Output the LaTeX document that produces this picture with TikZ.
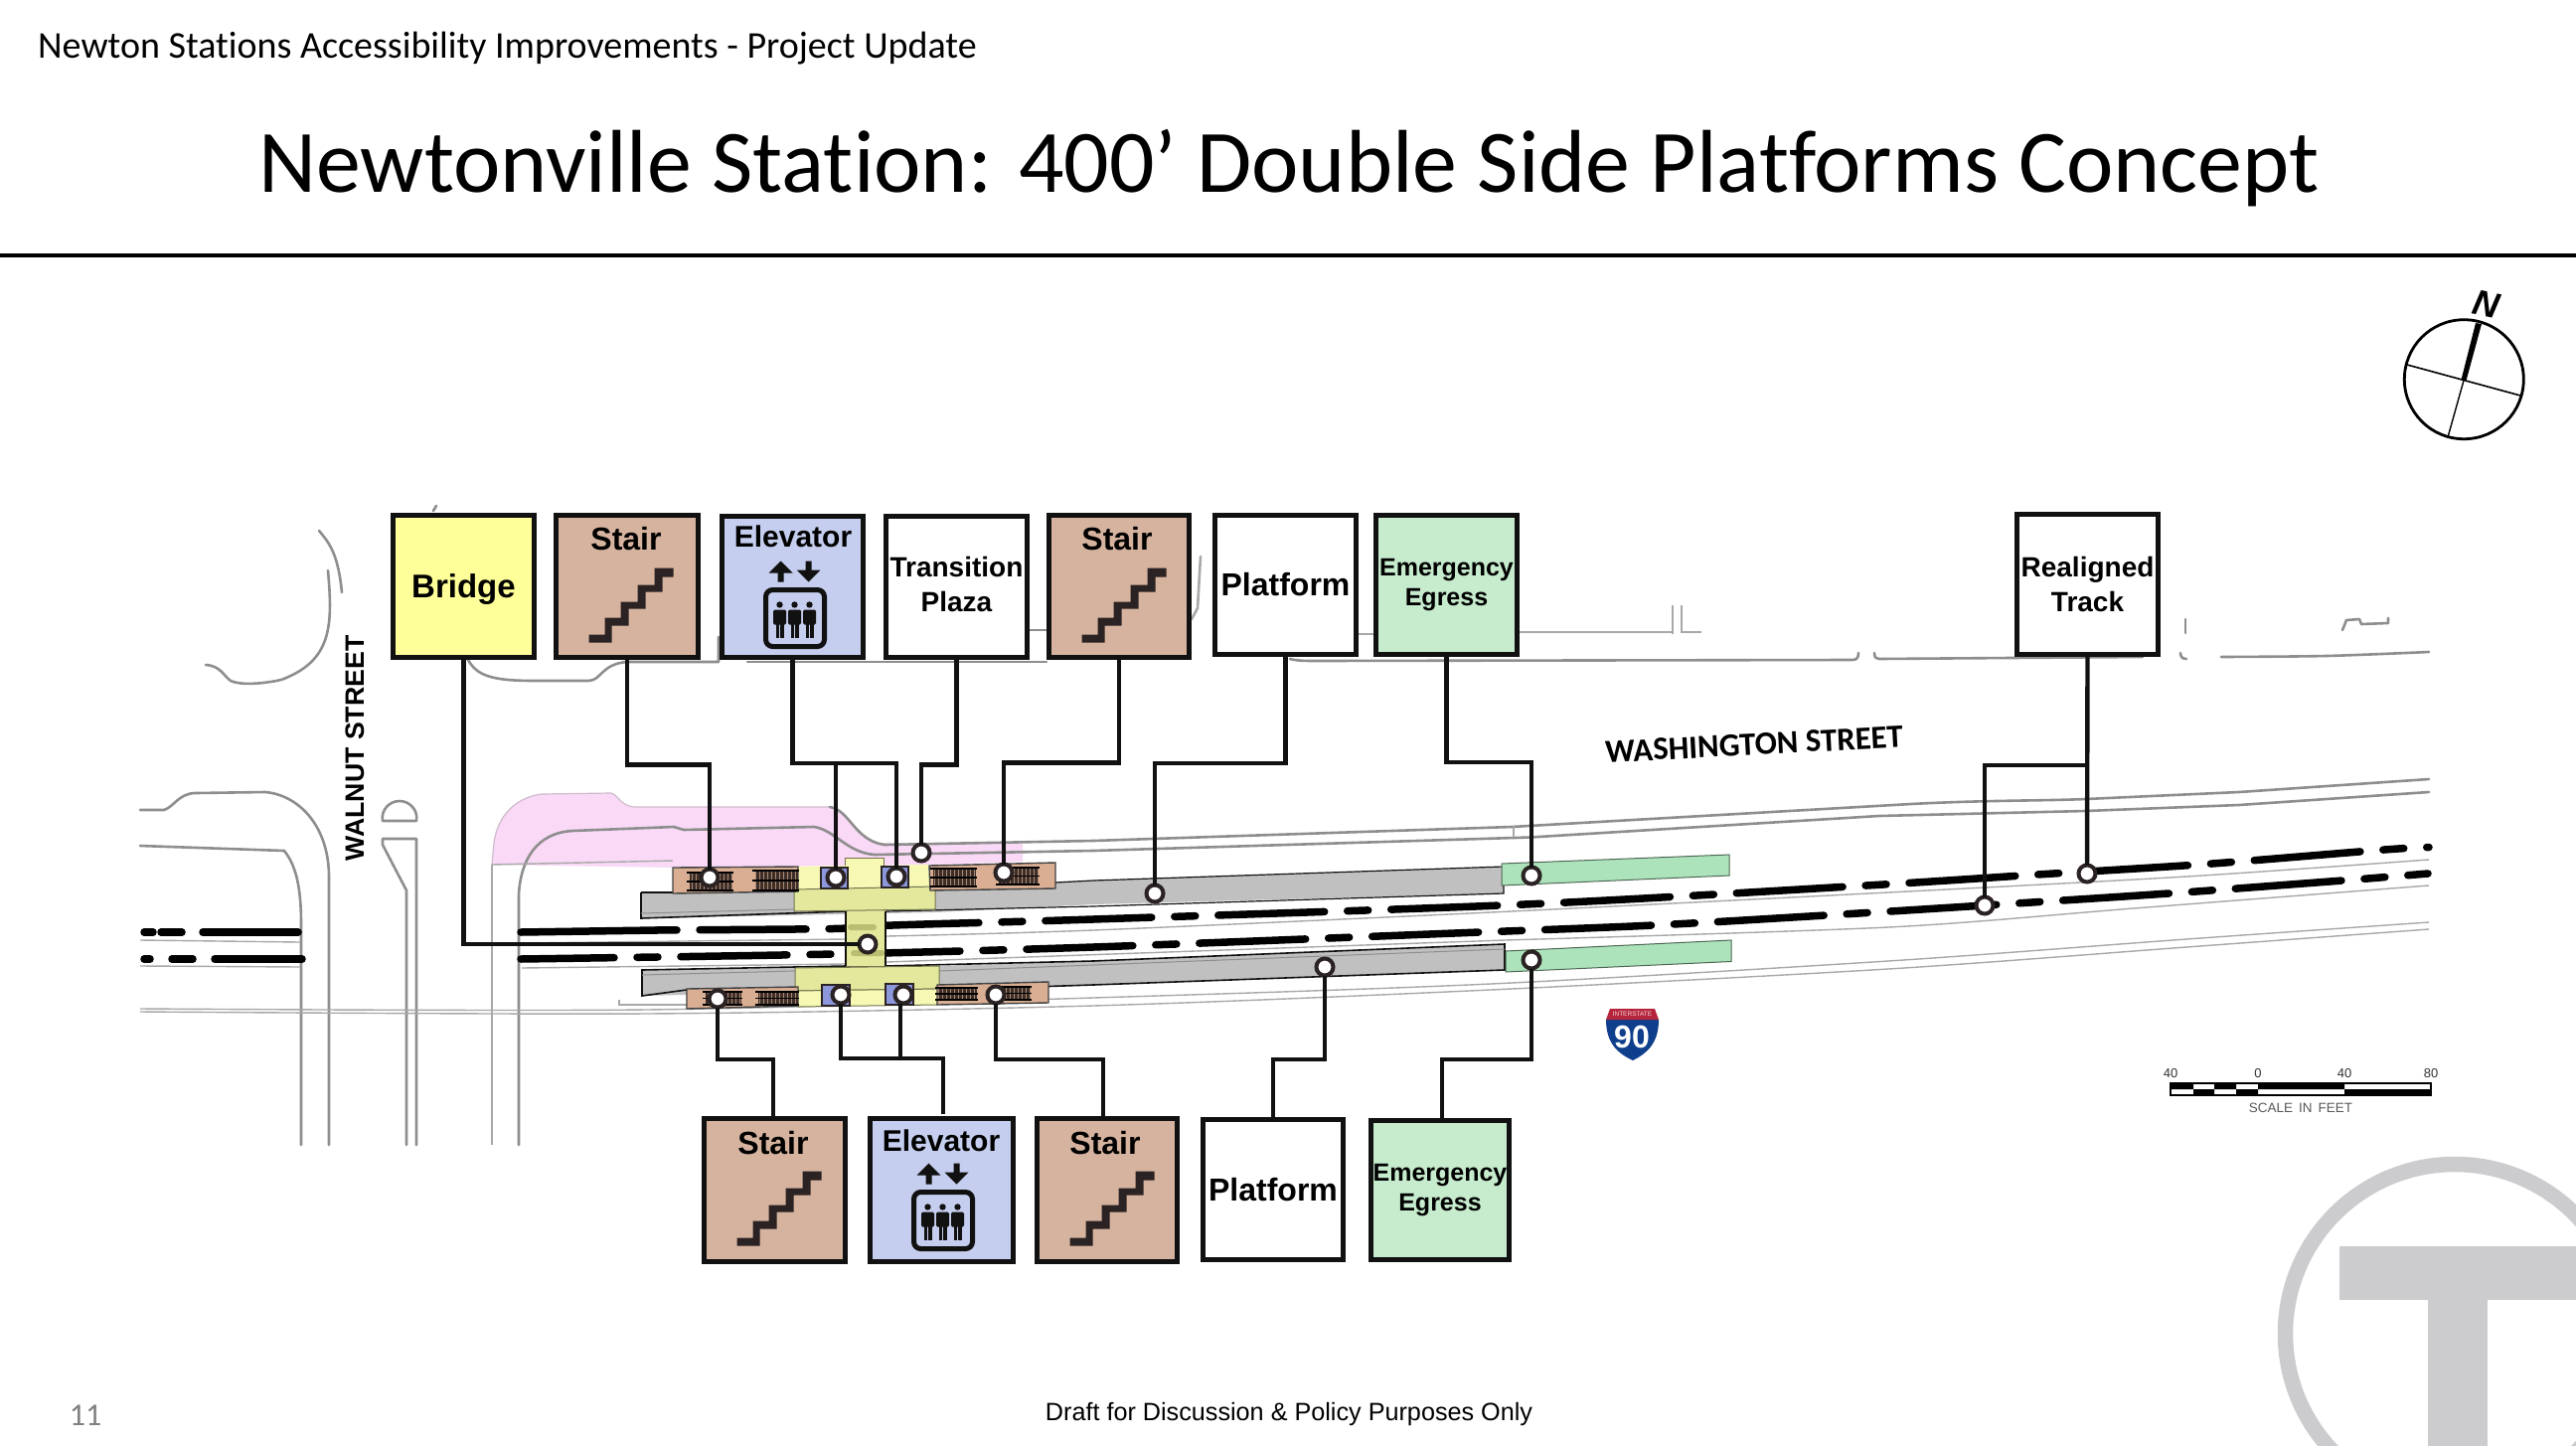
\documentclass[tikz,border=0pt]{standalone}
\usepackage{fontspec}
\setmainfont{Carlito}[Ligatures=NoCommon]
\newfontfamily\arialf{Liberation Sans}
\definecolor{boxyel}{HTML}{FFFF99}
\definecolor{boxtan}{HTML}{D6B39E}
\definecolor{boxblu}{HTML}{C5CEEE}
\definecolor{boxgrn}{HTML}{C6EBCD}
\definecolor{ink}{HTML}{111111}
\definecolor{road}{HTML}{8E8E8E}
\definecolor{thinroad}{HTML}{A8A8A8}
\definecolor{pltf}{HTML}{C0C0C0}
\definecolor{brgA}{HTML}{F6F8B4}
\definecolor{brgB}{HTML}{E4E89C}
\definecolor{brgC}{HTML}{B9BE72}
\definecolor{stairfill}{HTML}{D9AE92}
\definecolor{tread}{HTML}{3D2E28}
\definecolor{elevfill}{HTML}{8C97DC}
\definecolor{egress}{HTML}{ACE3BB}
\definecolor{pinkz}{HTML}{F9D9F6}
\definecolor{logogray}{HTML}{CCCBCE}
\definecolor{iconk}{HTML}{2B2223}
\definecolor{shieldr}{HTML}{B5243A}
\definecolor{shieldb}{HTML}{0F3F8C}
\newcommand{\treads}[4]{%
  \fill[tread] (#1,#3) rectangle (#2,#4);
  \foreach \tx in {#1,...,#2}{\pgfmathparse{int(mod(\tx,4))}\ifnum\pgfmathresult=0 \draw[stairfill!70!tread,line width=.8pt] (\tx,#3) -- (\tx,#4);\fi}
  \draw[black,line width=1.2pt] (#1-3,#3) -- (#2+1,#3) (#1-3,{(#3+#4)/2}) -- (#2+1,{(#3+#4)/2}) (#1-3,#4) -- (#2+1,#4);
}
\tikzset{
  x=1pt,y=-1pt,
  boxn/.style={draw=ink,line width=5pt,outer sep=0pt,inner sep=0pt,align=center,text=black,font=\arialf\bfseries},
  lab/.style={inner sep=0pt,outer sep=0pt,align=center,text=black,font=\arialf\bfseries},
  dotn/.style={circle,draw=iconk,line width=4pt,fill=white,inner sep=0pt,minimum size=17pt,outer sep=0pt},
  conn/.style={draw=ink,line width=4.4pt,line join=miter},
  roadl/.style={draw=road,line width=2.6pt,line cap=round,line join=round},
  thinl/.style={draw=thinroad,line width=1.4pt},
  rail/.style={draw=black,line width=7.5pt,line cap=round},
  railp/.style={rail,dash pattern=on 107pt off 23pt on 21pt off 23pt},
  pics/stairicon/.style={code={
    \fill[iconk] (33,120)--(49,120)--(49,103)--(65,103)--(65,87)--(82,87)--(82,70)--(99,70)--(99,53)--(118,53)--(118,62)--(107,62)--(107,77)--(90,77)--(90,94)--(73,94)--(73,111)--(56,111)--(56,128)--(33,128)--cycle;
  }},
  pics/elevicon/.style={code={
    \fill[ink] (59,45)--(71,57)--(62,57)--(62,66)--(56,66)--(56,57)--(47,57)--cycle;
    \fill[ink] (87,66)--(99,54)--(90,54)--(90,45)--(84,45)--(84,54)--(75,54)--cycle;
    \draw[ink,line width=5pt,rounded corners=7pt] (44,74) rectangle (103,131);
    \foreach \px in {58,73,88}{
      \fill[ink] (\px,89) circle (3.2pt);
      \fill[ink,rounded corners=1.5pt] (\px-6.5,94) rectangle (\px+6.5,109);
      \fill[ink] (\px-4,105) rectangle (\px-.7,122);
      \fill[ink] (\px+.7,105) rectangle (\px+4,122);
    }
  }},
}
\begin{document}
\begin{tikzpicture}
\clip (0,0) rectangle (2592,1454);
\fill[white] (0,0) rectangle (2592,1454);
% ---- T logo
\draw[logogray,line width=15.5pt] (2470,1342) circle (170.5pt);
\fill[logogray] (2354,1254) rectangle (2600,1308);
\fill[logogray] (2443,1254) rectangle (2503,1460);
% ---- header
\node[anchor=west,inner sep=0pt,font=\fontsize{38}{40}\selectfont] (hdr) at (38,49) {Newton Stations Accessibility Improvements - Project Update};
\node[inner sep=0pt,font=\fontsize{89.8}{96}\selectfont] (ttl) at (1297,169) {Newtonville Station: 400’ Double Side Platforms Concept};
\draw[black,line width=4pt] (0,256.5) -- (2592,256.5);
\node[inner sep=0pt,text=gray,font=\fontsize{32}{36}\selectfont] (pnum) at (86,1424) {11};
\node[inner sep=0pt,font=\arialf\fontsize{25.2}{30}\selectfont] (foot) at (1297,1423) {Draft for Discussion \& Policy Purposes Only};
% ---- pink
\fill[pinkz] (495,870) -- (497,848) .. controls (500,825) and (515,803) .. (545,799) -- (615,798) .. controls (622,800) and (625,812) .. (640,812) -- (835,812) .. controls (855,815) and (860,846) .. (885,848) -- (1029,848) -- (1029,867) -- (935,870) -- (677,873) -- cycle;
\draw[road!40!pinkz,line width=1.2pt] (495,870) -- (497,848) .. controls (500,825) and (515,803) .. (545,799) -- (615,798) .. controls (622,800) and (625,812) .. (640,812) -- (835,812);
% ---- roads: left
\draw[roadl] (141,815) -- (165,815) .. controls (175,812) and (180,798) .. (197,798) -- (267,797) .. controls (300,800) and (330,830) .. (331,880) -- (331,1152);
\draw[roadl] (141,851) -- (286,856) .. controls (297,870) and (303,890) .. (303,930) -- (303,1152);
\draw[roadl] (385,826) -- (419,826) .. controls (421,815) and (412,806) .. (402,806) .. controls (392,806) and (383,815) .. (385,826) -- cycle;
\draw[roadl] (409,1152) -- (409,896) -- (385,850) -- (385,844) -- (419,844) -- (419,1152);
\draw[roadl] (321,534) .. controls (330,545) and (340,555) .. (344,596);
\draw[roadl] (330,574) .. controls (335,630) and (334,665) .. (283,684) .. controls (260,689) and (240,689) .. (232,685) .. controls (225,680) and (222,670) .. (207,669);
\draw[roadl] (471,664) .. controls (480,680) and (495,685) .. (538,685) -- (592,685) .. controls (605,685) and (605,668) .. (631,666) -- (723,666) -- (723,641);
\draw[roadl] (436,514) -- (439,509);
\draw[roadl] (752,666) -- (1053,666);
\draw[roadl] (1036,634) -- (1053,634);
\draw[roadl,draw=thinroad] (1208,560) -- (1205,612) -- (1199,623);
\draw[thinl] (1367,638) -- (1382,638);
\draw[thinl] (1529,636) -- (1683,636);
\draw[thinl] (1683,609) -- (1683,638);
\draw[thinl] (1692,609) -- (1692,636) -- (1712,636);
\draw[roadl] (1298,663) .. controls (1305,665) and (1315,665) .. (1323,665) -- (1864,664) .. controls (1868,664) and (1870,662) .. (1870,657);
\draw[roadl] (1886,657) .. controls (1886,662) and (1888,663) .. (1891,663) -- (2156,661);
\draw[roadl] (2199,623) -- (2199,637);
\draw[roadl] (2194,657) .. controls (2194,661) and (2196,663) .. (2200,663);
\draw[roadl] plot[smooth] coordinates {(2235,661) (2341,660) (2444,656)};
\draw[roadl] (2357,634) -- (2361,624) -- (2374,623) -- (2376,628) -- (2403,627) -- (2403,622);
% Washington St curbs
\draw[roadl] (835,812) .. controls (855,815) and (860,846) .. (890,850) -- (1100,846) -- (1521,832) -- (1923,809) .. controls (2000,805) and (2050,806) .. (2099,804) -- (2253,797) -- (2444,784);
\draw[roadl] (522,1152) -- (522,900) .. controls (524,865) and (540,838) .. (576,836) -- (678,832) -- (688,835) -- (819,832) .. controls (840,835) and (852,858) .. (880,860) -- (1100,856) -- (1540,842.5) -- (1891,821) -- (2099,816) -- (2253,810) -- (2444,797);
\draw[roadl,draw=thinroad] (1523,832) -- (1523,841);
\draw[thinl] (495,870) -- (495,1152);
\draw[thinl] (495,870) -- (677,866);
% thin track lines
\draw[thinl] (141,946) -- (302,948);
\draw[thinl] (141,972) -- (302,973);
\draw[thinl] (525,949) -- (850,945);
\draw[thinl] plot[smooth] coordinates {(892,942) (1100,936) (1500,918) (1900,898) (2200,882) (2444,865)};
\draw[thinl] (525,974) -- (850,970);
\draw[thinl] plot[smooth] coordinates {(892,968) (1514,946)};
\draw[thinl] plot[smooth] coordinates {(1514,946) (1900,933) (2147,914) (2444,891)};
% lower road lines
\draw[thinl] plot[smooth] coordinates {(141,1015) (650,1016) (1100,1004) (1500,990) (1900,967) (2200,945) (2444,928)};
\draw[thinl] plot[smooth] coordinates {(141,1018) (650,1020) (1100,1012) (1500,996) (1900,975) (2200,953) (2444,935)};
\draw[thinl] (623,1006) -- (623,1011) -- (691,1011);
% ---- rails
\draw[rail] (145,938) -- (154,938);
\draw[rail] (162,938) -- (183,938);
\draw[rail] (204,938) -- (300,938);
\draw[rail] (145,965) -- (151,965);
\draw[rail] (173,965) -- (194,965);
\draw[rail] (216,965) -- (304,965);
\draw[rail] (524,938) -- (660,936);
\draw[railp,dash phase=107pt] plot[smooth] coordinates {(638,936.5) (660,936)(838,934.5) (898,931) (1100,925) (1534,910) (1878,891) (2050,880) (2100,877) (2226,869) (2399,855) (2444,852.5)};
\draw[railp,dash phase=13pt] plot[smooth] coordinates {(524,965) (840,960) (1100,953) (1489,938) (1664,931) (1837,921) (1997,911) (2182,899) (2357,886) (2443,879)};
% ---- platforms
\fill[pltf] (645,898) -- (945,891) -- (1100,886) -- (1513,872) -- (1513,899) -- (1100,910) -- (941,918) -- (645,924) -- cycle;
\draw[ink,line width=1.6pt] (645,898) -- (677,898);
\draw[ink,line width=1.2pt] (1062,888) -- (1100,886) -- (1513,872) -- (1513,899) -- (1100,912);
\draw[ink,line width=1.6pt] (645,898) -- (645,924) -- (851,917);
\draw[road,line width=1pt] (645,919) -- (800,915);
\draw[ink,line width=1.2pt] (891,917) -- (1100,912);
\fill[pltf] (646,976) -- (945,972) -- (1100,967) -- (1514,950) -- (1514,976) -- (1100,991) -- (945,995) -- (646,1002) -- cycle;
\draw[ink,line width=1.6pt] (691,996) -- (646,1002) -- (646,976) -- (851,972);
\draw[ink,line width=1.6pt] (891,972) -- (1100,967) -- (1514,950) -- (1514,976) -- (1100,991) -- (1055,992.5);
\draw[road,line width=1pt] (646,981) -- (800,977);
\draw[road,line width=1pt] (945,977) -- (1514,955);
% ---- egress
\fill[egress,draw=black!55!egress,line width=1pt] (1511,869) -- (1740,860) -- (1740,881) -- (1511,891) -- cycle;
\fill[egress,draw=black!55!egress,line width=1pt] (1515,957) -- (1742,946) -- (1742,967.5) -- (1515,978) -- cycle;
% ---- yellow bridge
\fill[brgB,draw=black!50!brgB,line width=1pt] (851,915) rectangle (891,972);
\fill[brgA] (850,863) -- (889,863) -- (889,871) -- (934,870) -- (936,895) -- (800,897) -- (803,872) -- (850,871) -- cycle;
\draw[black!50!brgB,line width=1pt] (850,871) -- (850,863) -- (889,863) -- (889,871);
\fill[brgB,draw=black!50!brgB,line width=1pt] (799,895) -- (941,892) -- (941,915) -- (799,917) -- cycle;
\fill[brgB,draw=black!50!brgB,line width=1pt] (800,974) -- (945,972) -- (945,995) -- (800,997) -- cycle;
\fill[brgA,draw=black!50!brgB,line width=1pt] (800,997) -- (945,995) -- (943,1011) -- (803,1013) -- cycle;
\draw[ink,line width=1.6pt] (851,917) -- (851,972);
\draw[ink,line width=1.6pt] (891,917) -- (891,972);
\fill[brgC,rounded corners=3pt] (853,930) rectangle (882,936);
\fill[brgC,rounded corners=3pt] (856,956) rectangle (890,962);
% ---- stairs
\fill[stairfill,draw=ink!80,line width=1.4pt] (677,873) -- (803,872) -- (803,897) -- (677,899) -- cycle;
\treads{694}{737}{878}{896}
\treads{760}{803}{876}{896}
\fill[stairfill,draw=ink!80,line width=1.4pt] (935,871) -- (1062,868) -- (1062,894) -- (936,896) -- cycle;
\treads{939}{982}{874}{892}
\treads{1005}{1045}{873}{890}
\fill[stairfill,draw=ink!80,line width=1.4pt] (691,995) -- (803,993) -- (803,1012) -- (691,1015) -- cycle;
\treads{710}{746}{998}{1011}
\treads{763}{803}{998}{1011}
\fill[stairfill,draw=ink!80,line width=1.4pt] (943,991) -- (1055,988) -- (1055,1009) -- (943,1011) -- cycle;
\treads{944}{983}{994}{1006}
\treads{1000}{1037}{993}{1006}
% ---- elevators on plan
\fill[elevfill,draw=iconk,line width=2.5pt] (826,873) rectangle (853,894);
\fill[elevfill,draw=iconk,line width=2.5pt] (887,872) rectangle (914,893);
\fill[elevfill,draw=iconk,line width=2.5pt] (827,991) rectangle (855,1012);
\fill[elevfill,draw=iconk,line width=2.5pt] (891,990) rectangle (919,1011);
% ---- street labels
\node[lab,rotate=90,font=\arialf\bfseries\fontsize{26.7}{30}\selectfont] (walnut) at (357,753) {WALNUT STREET};
\node[lab,rotate=3,font=\bfseries\fontsize{32.8}{38}\selectfont] (wash) at (1765,749) {WASHINGTON STREET};
% ---- I-90 shield
\fill[shieldb] (1616,1026) .. controls (1616,1050) and (1628,1060) .. (1643,1067) .. controls (1657,1060) and (1669,1050) .. (1669,1026) -- cycle;
\fill[shieldr] (1620,1015) -- (1665,1015) -- (1669,1026) -- (1616,1026) -- cycle;
\node[inner sep=0pt,text=white,font=\arialf\bfseries\fontsize{32}{34}\selectfont] (i90) at (1642,1043) {90};
\node[inner sep=0pt,text=white!85!shieldr,font=\arialf\fontsize{6.5}{7}\selectfont] (ist) at (1642.5,1020.5) {INTERSTATE};
% ---- north arrow
\draw[black,line width=2.8pt] (2479.3,381.7) circle (60pt);
\draw[black,line width=1.6pt] (2422,367) -- (2536,398);
\draw[black,line width=1.4pt] (2479.3,381.7) -- (2463,440);
\fill[black] (2476.5,382) -- (2491,325) -- (2497,326) -- (2481.5,383) -- cycle;
\node[inner sep=0pt,rotate=-12,font=\arialf\bfseries\itshape\fontsize{36}{38}\selectfont] (nlet) at (2502,306) {N};
% ---- scale bar
\fill[white,draw=black,line width=1.2pt] (2184,1090) rectangle (2446,1102);
\fill[black] (2184,1090) rectangle (2207,1096) (2228,1090) rectangle (2250,1096) (2272,1090) rectangle (2359,1096);
\fill[black] (2207,1096) rectangle (2228,1102) (2250,1096) rectangle (2272,1102) (2359,1096) rectangle (2446,1102);
\foreach \sx/\st/\sn in {2184/40/sa,2272/0/sb,2359/40/sc,2446/80/sd}
  \node[inner sep=0pt,text=black!80,font=\arialf\fontsize{13}{14}\selectfont] (\sn) at (\sx,1080) {\st};
\node[inner sep=0pt,text=black!65,font=\arialf\fontsize{13.5}{15}\selectfont] (sclab) at (2315,1115) {SCALE\, IN\, FEET};
% ---- boxes
\node[boxn,fill=boxyel,minimum width=142pt,minimum height=143pt] (bridge) at (466.5,590) {};
\node[lab,font=\arialf\bfseries\fontsize{33}{38}\selectfont] (bridget) at (466.5,593) {Bridge};
\node[boxn,fill=boxtan,minimum width=143pt,minimum height=143pt] (st1) at (631,590) {};
\node[boxn,fill=boxblu,minimum width=142pt,minimum height=142pt] (el1) at (797.5,590.5) {};
\node[boxn,fill=white,minimum width=142pt,minimum height=142pt] (tp) at (962.5,590.5) {};
\node[lab,font=\arialf\bfseries\fontsize{28}{35}\selectfont] (tpt) at (962.5,587.5) {Transition\\Plaza};
\node[boxn,fill=boxtan,minimum width=141pt,minimum height=143pt] (st2) at (1126,590) {};
\node[boxn,fill=white,minimum width=142pt,minimum height=140pt,font=\arialf\bfseries\fontsize{32}{36}\selectfont] (pf1) at (1293.5,588.5) {Platform};
\node[boxn,fill=boxgrn,minimum width=142pt,minimum height=140pt,font=\arialf\bfseries\fontsize{25}{30}\selectfont] (eg1) at (1455.5,588.5) {Emergency\\Egress};
\node[boxn,fill=white,minimum width=142pt,minimum height=141pt,font=\arialf\bfseries\fontsize{28}{35}\selectfont] (rt) at (2100.5,588) {Realigned\\Track};
\node[boxn,fill=boxtan,minimum width=142pt,minimum height=144pt] (st3) at (779.5,1197.5) {};
\node[boxn,fill=boxblu,minimum width=144pt,minimum height=144pt] (el2) at (947.5,1197.5) {};
\node[boxn,fill=boxtan,minimum width=141pt,minimum height=144pt] (st4) at (1114,1197.5) {};
\node[boxn,fill=white,minimum width=141pt,minimum height=141pt,font=\arialf\bfseries\fontsize{32}{36}\selectfont] (pf2) at (1281,1197) {Platform};
\node[boxn,fill=boxgrn,minimum width=139pt,minimum height=140pt,font=\arialf\bfseries\fontsize{25}{30}\selectfont] (eg2) at (1449,1197.5) {Emergency\\Egress};
% box inner labels and icons
\tikzset{boxlab/.style={lab,font=\arialf\bfseries\fontsize{#1}{36}\selectfont}}
\node[boxlab=32] (st1t) at (630,542) {Stair};
\node[boxlab=30] (el1t) at (798,540) {Elevator};
\node[boxlab=32] (st2t) at (1124,542) {Stair};
\node[boxlab=32] (st3t) at (778,1150) {Stair};
\node[boxlab=30] (el2t) at (947,1148) {Elevator};
\node[boxlab=32] (st4t) at (1112,1150) {Stair};
\pic at (st1.north west) {stairicon};
\pic at (st2.north west) {stairicon};
\pic at (st3.north west) {stairicon};
\pic at (st4.north west) {stairicon};
\pic at (el1.north west) {elevicon};
\pic at (el2.north west) {elevicon};
% ---- callout dots
\node[dotn] (d1) at (714,883) {};
\node[dotn] (d2) at (841,883) {};
\node[dotn] (d3) at (902,882) {};
\node[dotn] (d4) at (927,858) {};
\node[dotn] (d5) at (1010,878) {};
\node[dotn] (d6) at (873,950) {};
\node[dotn] (d7) at (1162,899) {};
\node[dotn] (d8) at (1541,881) {};
\node[dotn] (d9) at (2100,879) {};
\node[dotn] (d10) at (1997,911) {};
\node[dotn] (d11) at (722,1005) {};
\node[dotn] (d12) at (846,1001) {};
\node[dotn] (d13) at (909,1001) {};
\node[dotn] (d14) at (1002,1001) {};
\node[dotn] (d15) at (1333,973) {};
\node[dotn] (d16) at (1541,966) {};
% ---- connectors
\coordinate (j1) at (841,768);
\coordinate (j2) at (2100,770);
\coordinate (j3) at (906,1065);
\draw[conn] (bridge.south) |- (d6);
\draw[conn] (st1.south) -- ++(0,108) -| (d1);
\draw[conn] (el1.south) -- ++(0,106.5) -| (d3);
\draw[conn] (d2) -- (d2 |- j1);
\draw[conn] (tp.south) -- ++(0,108) -| (d4);
\draw[conn] (st2.south) -- ++(0,106) -| (d5);
\draw[conn] (pf1.south) -- ++(0,109.5) -| (d7);
\draw[conn] (eg1.south) -- ++(0,108.5) -| (d8);
\draw[conn] (rt.south) -- (d9);
\draw[conn] (j2) -| (d10);
\draw[conn] (d11) |- (778,1066) -- ([yshift=3pt,xshift=-1.5pt]st3.north);
\draw[conn] (d12) |- (949,1065) -- ([yshift=5pt,xshift=1.5pt]el2.north);
\draw[conn] (d13.south -| j3) -- (j3);
\draw[conn] (d14) |- (1110,1066) -- ([xshift=-4pt]st4.north);
\draw[conn] (d15) |- (pf2.north |- 0,1066) -- (pf2.north);
\draw[conn] (d16) |- (1451,1066) -- ([xshift=2pt]eg2.north);
\end{tikzpicture}
\end{document}
